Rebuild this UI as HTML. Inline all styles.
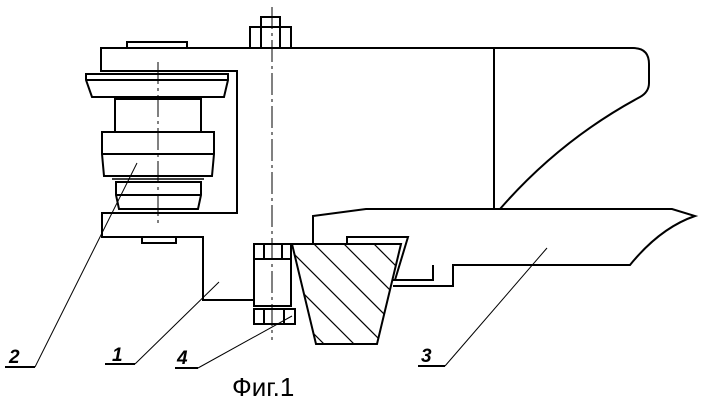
<!DOCTYPE html>
<html><head><meta charset="utf-8"><style>
html,body{margin:0;padding:0;background:#fff;width:701px;height:402px;overflow:hidden}
svg{display:block}
text{font-family:"Liberation Sans",sans-serif;fill:#000}
</style></head><body>
<svg width="701" height="402" viewBox="0 0 701 402" xmlns="http://www.w3.org/2000/svg">
<defs><clipPath id="w"><polygon points="292,244 401,244 377,344 316,344"/></clipPath></defs>
<g fill="none" stroke="#000" stroke-width="2" stroke-linejoin="miter">
<polyline points="633,48 101,48 101,71 237,71 237,213 102,213 102,237 203,237 203,300 254,300"/>
<rect x="127" y="42" width="60" height="6"/>
<rect x="142" y="237" width="34" height="6"/>
<rect x="250" y="27" width="41" height="21"/>
<rect x="261" y="17" width="19" height="10"/>
<line x1="261" y1="27" x2="261" y2="48"/><line x1="280" y1="27" x2="280" y2="48"/>
<path d="M86,74 L228,74 L228,80 L224,97 L92,97 L86,80 Z"/>
<line x1="86" y1="80" x2="228" y2="80"/>
<rect x="115" y="99" width="86" height="33"/>
<path d="M102,132 L214,132 L214,154 L212,176 L104,176 L102,154 Z"/>
<line x1="102" y1="154" x2="214" y2="154"/>
<path d="M116,182 L201,182 L201,195 L198,209 L119,209 L116,195 Z"/>
<line x1="116" y1="195" x2="201" y2="195"/>
<line x1="112" y1="179" x2="204" y2="179" stroke-width="1.5"/>
<path d="M633,48 Q649,48 649,64 L649,83 Q649,92 640,97 Q560,140 500,209"/>
<line x1="494" y1="48" x2="494" y2="209"/>
<path d="M313,244 L313,216 L366,209 L672,209 L695,216 Q660,228 630,265 L453,265 L453,286 L393,286"/>
<polyline points="393,280 433,280 433,265"/>
<rect x="254" y="244" width="37" height="62"/>
<line x1="264" y1="244" x2="264" y2="259"/><line x1="282" y1="244" x2="282" y2="259"/>
<line x1="254" y1="259" x2="291" y2="259"/>
<rect x="254" y="309" width="41" height="15"/>
<line x1="264" y1="309" x2="264" y2="324"/><line x1="284" y1="309" x2="284" y2="324"/>
<polyline points="347,244 347,237 408,237 395,280"/>
<polygon points="292,244 401,244 377,344 316,344"/>
</g>
<g clip-path="url(#w)" stroke="#000" stroke-width="1.2">
<line x1="300" y1="230" x2="420" y2="350"/>
<line x1="330" y1="230" x2="450" y2="350"/>
<line x1="360" y1="230" x2="480" y2="350"/>
<line x1="270" y1="230" x2="390" y2="350"/>
<line x1="240" y1="230" x2="360" y2="350"/>
<line x1="210" y1="230" x2="330" y2="350"/>
</g>
<g stroke="#000" stroke-width="1" stroke-dasharray="22,4,3,4" fill="none">
<line x1="272" y1="7" x2="272" y2="340"/>
<line x1="158" y1="62" x2="158" y2="223"/>
</g>
<g stroke="#000" stroke-width="1" fill="none">
<line x1="35" y1="367" x2="137" y2="163"/>
<line x1="135" y1="364" x2="219" y2="282"/>
<line x1="198" y1="368" x2="292" y2="316"/>
<line x1="445" y1="366" x2="547" y2="248"/>
</g>
<g stroke="#000" stroke-width="2">
<line x1="5" y1="367" x2="35" y2="367"/>
<line x1="105" y1="364" x2="135" y2="364"/>
<line x1="175" y1="368" x2="198" y2="368"/>
<line x1="418" y1="366" x2="445" y2="366"/>
</g>
<g font-size="19" font-style="italic" font-weight="bold">
<text x="9" y="363">2</text>
<text x="112" y="361">1</text>
<text x="177" y="364">4</text>
<text x="421" y="362">3</text>
</g>
<text x="232" y="396" font-size="26">Фиг.1</text>
</svg>
</body></html>
